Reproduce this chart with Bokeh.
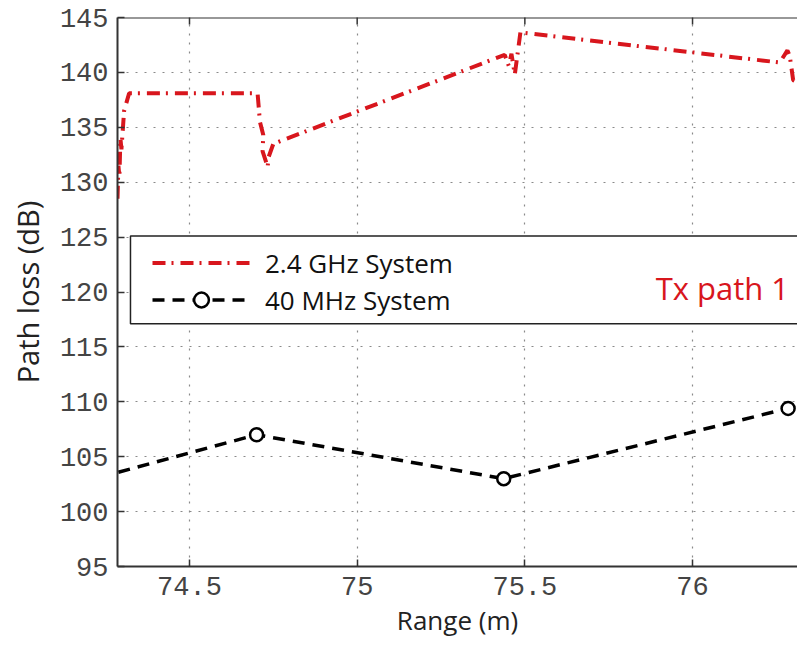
import math
from bokeh.plotting import figure
from bokeh.models import Legend, LegendItem, FixedTicker, Range1d, Span, BoxAnnotation
from bokeh.core.properties import value
from bokeh.embed import file_html
from bokeh.resources import INLINE

# ---- data ----
ghz_x = [74.2853, 74.288, 74.291, 74.294, 74.297, 74.305, 74.32, 74.703, 74.71, 74.72,
         74.718, 74.733, 74.736, 74.75, 75.44, 75.452, 75.46, 75.47, 75.487, 75.50,
         76.26, 76.283, 76.29, 76.30, 76.32]
ghz_y = [128.5, 131.5, 130.5, 134.0, 133.0, 136.5, 138.1, 138.1, 135.5, 134.3,
         132.8, 131.4, 132.3, 133.5, 141.6, 140.6, 141.7, 139.8, 143.7, 143.6,
         140.9, 142.0, 141.5, 139.3, 139.0]

mhz_x = [74.0, 74.70, 75.437, 76.285]
mhz_y = [101.2, 107.0, 103.0, 109.4]

x_ticks = [74.5, 75, 75.5, 76]
x_tick_labels = ["74.5", "75", "75.5", "76"]
y_ticks = [95, 100, 105, 110, 115, 120, 125, 130, 135, 140, 145]

note_text = ["Tx path 1"]
note_x = [75.89]
note_y = [120.4]

RED = "#d8161d"
MONO = "Liberation Mono"
SANS = "Open Sans"
AX = "#333333"

p = figure(width=797, height=647, output_backend="svg", toolbar_location=None, title=None,
           x_range=Range1d(74.2853, 76.313), y_range=Range1d(95, 145),
           min_border_left=117, min_border_right=0, min_border_top=17, min_border_bottom=81)
p.outline_line_color = None
p.background_fill_color = "white"
p.border_fill_color = "white"

# grid
for g in (p.xgrid[0], p.ygrid[0]):
    g.grid_line_color = "#8a8a8a"
    g.grid_line_width = 1.2
    g.grid_line_dash = "2 7"
p.xgrid.ticker = FixedTicker(ticks=x_ticks)
p.ygrid.ticker = FixedTicker(ticks=y_ticks)

# top border with inward ticks (box on)
p.add_layout(Span(location=y_ticks[-1], dimension="width", line_color=AX, line_width=2))
p.scatter(x_ticks, [y_ticks[-1]] * len(x_ticks), marker="dash", angle=math.pi / 2,
          size=14, line_color=AX, line_width=1.5)

r_red = p.line(ghz_x, ghz_y, line_color=RED, line_width=4, line_dash="13 6 2 7")
r_blk = p.line(mhz_x, mhz_y, line_color="black", line_width=3.5, line_dash="12 8")
r_pts = p.scatter(mhz_x, mhz_y, size=13, marker="circle", line_color="black",
                  line_width=2.5, fill_color="white")

# axes
for ax in (p.xaxis[0], p.yaxis[0]):
    ax.axis_line_color = AX
    ax.axis_line_width = 2
    ax.major_tick_in = 7
    ax.major_tick_out = 0
    ax.minor_tick_in = 0
    ax.minor_tick_out = 0
    ax.major_tick_line_color = AX
    ax.major_tick_line_width = 1.5
    ax.major_label_text_font = MONO
    ax.major_label_text_font_size = "27px"
    ax.major_label_text_color = "#444444"
    ax.axis_label_text_font = SANS
    ax.axis_label_text_font_style = "normal"
    ax.axis_label_text_color = "#222222"

p.xaxis.ticker = FixedTicker(ticks=x_ticks)
p.xaxis.major_label_overrides = {t: l for t, l in zip(x_ticks, x_tick_labels)}
p.xaxis.axis_label = "Range (m)"
p.xaxis.major_label_standoff = 10
p.xaxis.axis_label_standoff = 4
p.xaxis.axis_label_text_font_size = "26px"
p.yaxis.ticker = FixedTicker(ticks=y_ticks)
p.yaxis.axis_label = "Path loss (dB)"
p.yaxis.axis_label_text_font_size = "29px"
p.yaxis.major_label_standoff = 9
p.yaxis.axis_label_standoff = 10

# legend box (white, bordered) spanning to the right edge
box = BoxAnnotation(left=74.324, right=76.5, bottom=117.1, top=125.1,
                    fill_color="white", fill_alpha=1.0,
                    line_color="#222222", line_width=1.5, line_alpha=1.0)
p.add_layout(box)

legend = Legend(items=[LegendItem(label="2.4 GHz System", renderers=[r_red]),
                       LegendItem(label="40 MHz System", renderers=[r_blk, r_pts])],
                location=(35, 248), orientation="vertical",
                border_line_color=None, background_fill_alpha=0.0,
                label_text_font=SANS, label_text_font_size="26px", label_text_color="#111111",
                glyph_width=98, glyph_height=37, label_height=37,
                label_standoff=15, spacing=0, padding=0, margin=0)
p.add_layout(legend, "center")

note = p.text(note_x, note_y, text=note_text, text_font=value(SANS), text_font_size="31px",
              text_color=RED, text_baseline="alphabetic", text_align="left")
note.level = "overlay"

open("out.html", "w").write(file_html(p, INLINE))
